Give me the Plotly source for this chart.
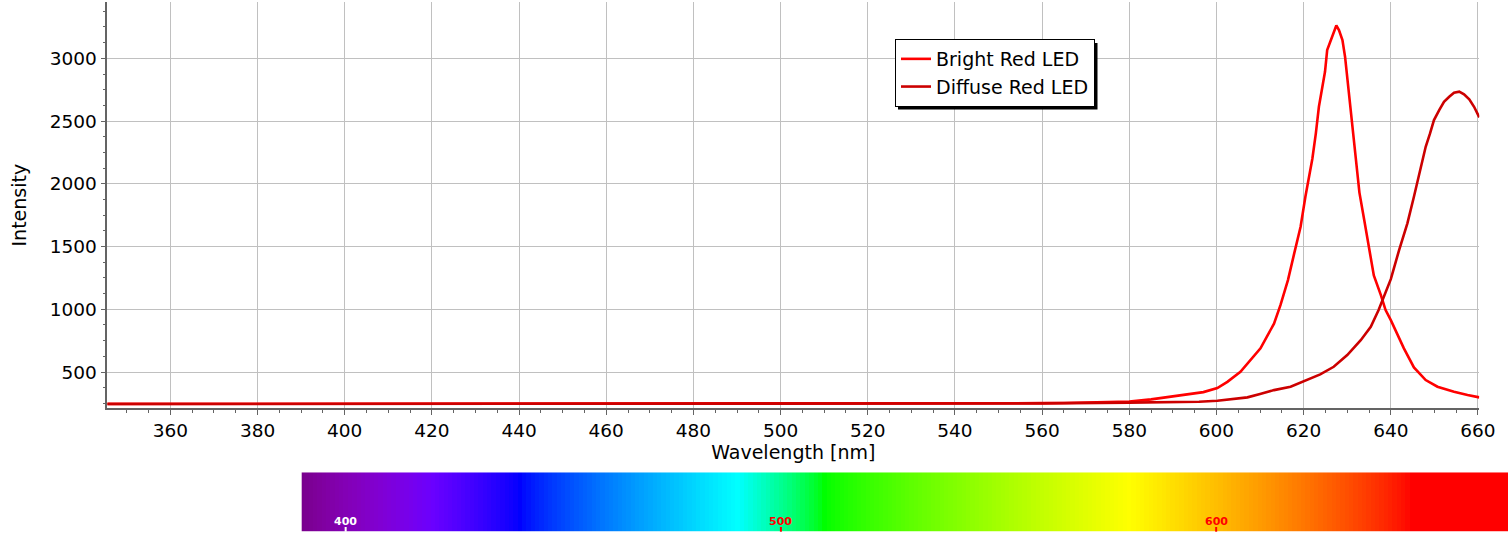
import plotly.graph_objects as go

# ---------------- data ----------------
bright_nm = [345.5, 360, 380, 400, 420, 440, 460, 480, 500, 520, 540, 550, 560, 565,
             570, 575, 580, 585, 590, 594, 597, 600.2, 602.5, 605.5, 607.8, 610.1,
             611.6, 613.2, 614.7, 616.4, 617.8, 619.3, 620.4, 621.0, 622.0, 622.8,
             623.5, 624.3, 624.9, 625.4, 626.2, 626.9, 627.5, 628.1, 628.9, 629.5,
             630.0, 630.6, 631.2, 631.7, 632.3, 632.8, 633.9, 635.0, 636.1, 637.7,
             638.8, 640.0, 641.5, 643.0, 645.3, 648.0, 650.7, 654.5, 657.6, 660.3]
bright_int = [246, 246, 246, 246, 246, 247, 247, 248, 248, 249, 250, 251, 252, 253,
              255, 258, 264, 282, 305, 322, 340, 372, 422, 502, 595, 689,
              785, 885, 1035, 1233, 1440, 1658, 1897, 2004, 2200, 2402,
              2614, 2774, 2893, 3066, 3146, 3199, 3262, 3225, 3146, 3013,
              2853, 2668, 2455, 2269, 2083, 1930, 1711, 1472, 1270, 1115,
              994, 914, 795, 689, 537, 436, 383, 343, 317, 298]

diffuse_nm = [345.5, 360, 380, 400, 420, 440, 460, 480, 500, 520, 540, 560, 580,
              590, 596, 600.2, 603.5, 607.1, 610.0, 613.2, 617.0, 620.0, 623.8,
              626.9, 630.0, 633.1, 635.4, 637.2, 638.4, 640.0, 641.9, 643.8, 645.3,
              646.5, 647.3, 648.0, 649.0, 649.9, 651.1, 652.2, 653.4, 654.5, 655.7,
              656.8, 658.0, 659.1, 660.3]
diffuse_int = [245, 245, 245, 245, 245, 246, 246, 247, 247, 248, 249, 250, 256,
               258, 263, 271, 283, 298, 325, 356, 383, 428, 481,
               542, 635, 754, 861, 994, 1100, 1240, 1472, 1685, 1897,
               2083, 2189, 2295, 2402, 2508, 2588, 2654, 2694, 2726, 2734,
               2713, 2673, 2614, 2530]

series_names = ["Bright Red LED", "Diffuse Red LED"]
series_colors = ["#ff0000", "#cc0000"]

x_ticks = list(range(360, 661, 20))
y_ticks = [500, 1000, 1500, 2000, 2500, 3000]

spectrum_nm = list(range(390, 668))
spectrum_ticks = [400, 500, 600]
spectrum_tick_colors = ["#ffffff", "#ff0000", "#ff0000"]

W, H = 1508, 552
FONT = "DejaVu Sans"


def wl_rgb(w):
    """Classic wavelength -> RGB colour used for the visible spectrum strip."""
    if w < 440:
        r, g, b = -(w - 440) / 60.0, 0.0, 1.0
    elif w < 490:
        r, g, b = 0.0, (w - 440) / 50.0, 1.0
    elif w < 510:
        r, g, b = 0.0, 1.0, -(w - 510) / 20.0
    elif w < 580:
        r, g, b = (w - 510) / 70.0, 1.0, 0.0
    elif w < 645:
        r, g, b = 1.0, -(w - 645) / 65.0, 0.0
    else:
        r, g, b = 1.0, 0.0, 0.0
    f = 0.3 + 0.7 * (w - 380) / 40.0 if w < 420 else 1.0
    conv = lambda c: int(round(255 * (c * f) ** 0.8)) if c > 0 else 0
    return "rgb(%d,%d,%d)" % (conv(r), conv(g), conv(b))


zmin, zmax = spectrum_nm[0], spectrum_nm[-1]
colorscale = [[(w - zmin) / (zmax - zmin), wl_rgb(w)] for w in spectrum_nm]

# ---------------- figure ----------------
fig = go.Figure()
for nm, inten, name, col in [(bright_nm, bright_int, series_names[0], series_colors[0]),
                             (diffuse_nm, diffuse_int, series_names[1], series_colors[1])]:
    fig.add_trace(go.Scatter(x=nm, y=inten, mode="lines", name=name,
                             line=dict(color=col, width=2.6), xaxis="x", yaxis="y"))

fig.add_trace(go.Heatmap(x=spectrum_nm, y=[0], z=[spectrum_nm], colorscale=colorscale,
                         zmin=zmin, zmax=zmax, showscale=False, hoverinfo="skip",
                         xaxis="x2", yaxis="y2", showlegend=False))

px = lambda p: p / W
py = lambda p: (H - p) / H

fig.update_layout(
    width=W, height=H,
    margin=dict(l=0, r=0, t=0, b=0),
    paper_bgcolor="white", plot_bgcolor="white",
    font=dict(family=FONT, size=18.5, color="black"),
    showlegend=True,
    legend=dict(x=px(895), y=py(39), xanchor="left", yanchor="top",
                bgcolor="white", bordercolor="black", borderwidth=1,
                font=dict(family=FONT, size=19, color="black"),
                tracegroupgap=0),
    xaxis=dict(domain=[px(107.3), px(1479.3)], range=[345.53, 660.3],
               tickvals=x_ticks, ticks="outside", ticklen=5, tickcolor="#646464",
               showline=True, linecolor="#646464", linewidth=1.5,
               showgrid=True, gridcolor="#c0c0c0", gridwidth=1, zeroline=False,
               minor=dict(dtick=5, ticks="outside", ticklen=3, tickcolor="#646464",
                          showgrid=False),
               title=dict(text="Wavelength [nm]", standoff=4,
                          font=dict(family=FONT, size=19)),
               tickfont=dict(family=FONT, size=18.5), automargin=False, anchor="y"),
    yaxis=dict(domain=[py(408.3), py(2)], range=[211, 3449],
               tickvals=y_ticks, ticks="outside", ticklen=5, tickcolor="#646464",
               showline=True, linecolor="#646464", linewidth=1.5,
               showgrid=True, gridcolor="#c0c0c0", gridwidth=1, zeroline=False,
               minor=dict(dtick=125, ticks="outside", ticklen=3, tickcolor="#646464",
                          showgrid=False),
               title=dict(text="Intensity", standoff=18,
                          font=dict(family=FONT, size=19)),
               tickfont=dict(family=FONT, size=18.5), automargin=False, anchor="x"),
    xaxis2=dict(domain=[px(301.7), 1.0], range=[389.9, 667.05], visible=False,
                anchor="y2", fixedrange=True),
    yaxis2=dict(domain=[py(531.7), py(472.3)], range=[-0.5, 0.5], visible=False,
                anchor="x2", fixedrange=True),
)

# legend drop shadow (offset 3 px right/down behind the legend box)
fig.add_shape(type="rect", xref="paper", yref="paper",
              x0=px(898), x1=px(1097.5), y0=py(109.5), y1=py(43),
              fillcolor="black", line=dict(width=0), layer="above")

# spectrum strip labels and ticks
for t, c in zip(spectrum_ticks, spectrum_tick_colors):
    fig.add_annotation(x=t, xref="x2", y=py(521), yref="paper", text="<b>%d</b>" % t,
                       showarrow=False, font=dict(family=FONT, size=11, color=c),
                       xanchor="center", yanchor="middle")
    fig.add_shape(type="line", xref="x2", yref="paper", x0=t, x1=t,
                  y0=py(531.7), y1=py(527), line=dict(color=c, width=2), layer="above")

fig.write_html("out.html", config={"displayModeBar": False},
               post_script="document.body.style.margin='0';"
                           "document.body.style.overflow='hidden';")
